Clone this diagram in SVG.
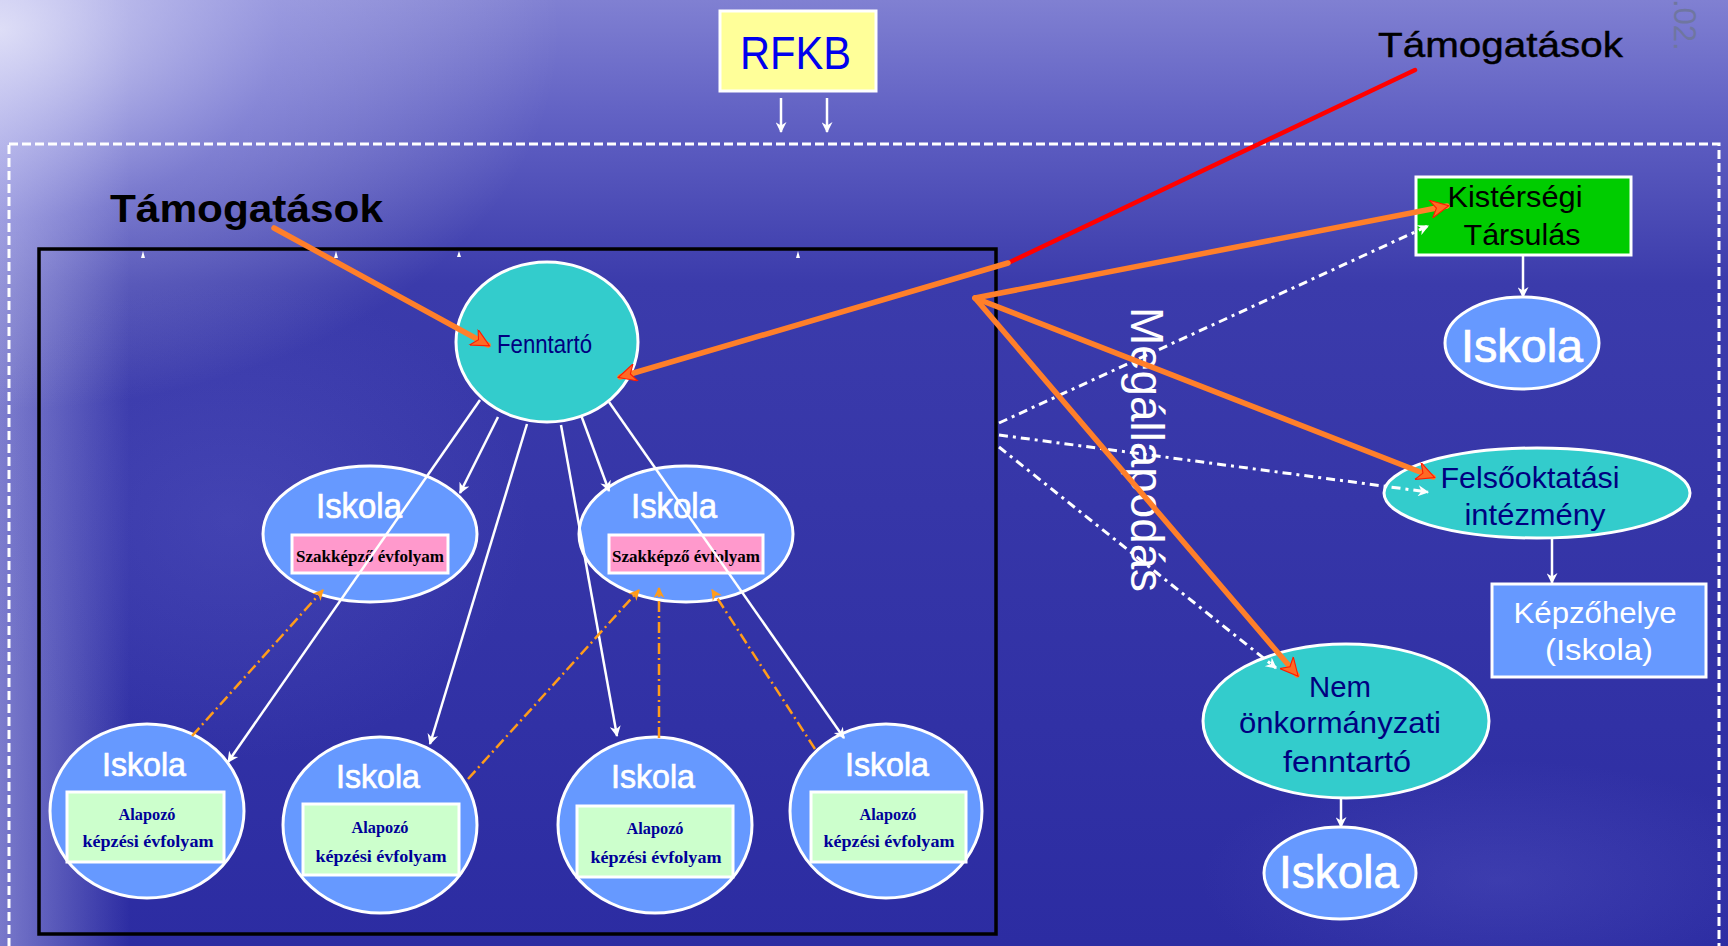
<svg xmlns="http://www.w3.org/2000/svg" width="1728" height="946" viewBox="0 0 1728 946">
<defs>
  <linearGradient id="bgV" x1="0" y1="0" x2="0" y2="1">
    <stop offset="0" stop-color="#8080d2"/>
    <stop offset="0.12" stop-color="#6262c4"/>
    <stop offset="0.3" stop-color="#3b3bab"/>
    <stop offset="1" stop-color="#2c2ca2"/>
  </linearGradient>
  <radialGradient id="bgTL" cx="0" cy="0" r="1" gradientUnits="userSpaceOnUse" gradientTransform="translate(0,30) scale(560,380)">
    <stop offset="0" stop-color="#f4f4ff" stop-opacity="0.75"/>
    <stop offset="0.5" stop-color="#d8d8ff" stop-opacity="0.3"/>
    <stop offset="1" stop-color="#ffffff" stop-opacity="0"/>
  </radialGradient>
  <linearGradient id="bgL" x1="0" y1="0" x2="1" y2="0">
    <stop offset="0" stop-color="#b8b8ec" stop-opacity="0.55"/>
    <stop offset="1" stop-color="#b8b8ec" stop-opacity="0"/>
  </linearGradient>
  <radialGradient id="bgW" cx="0.5" cy="0.5" r="0.5">
    <stop offset="0" stop-color="#6a6ad0" stop-opacity="0.25"/>
    <stop offset="1" stop-color="#6a6ad0" stop-opacity="0"/>
  </radialGradient>
  <marker id="mWhite" viewBox="0 0 10 10" refX="9" refY="5" markerWidth="14" markerHeight="11" markerUnits="userSpaceOnUse" orient="auto">
    <path d="M0,0 L10,5 L0,10 L3,5 Z" fill="#ffffff"/>
  </marker>
  <marker id="mOrangeDot" viewBox="0 0 10 10" refX="9" refY="5" markerWidth="13" markerHeight="11" markerUnits="userSpaceOnUse" orient="auto">
    <path d="M0,0 L10,5 L0,10 L3,5 Z" fill="#ff9c1a"/>
  </marker>
  <marker id="mThick" viewBox="0 0 10 10" refX="9" refY="5" markerWidth="24" markerHeight="18" markerUnits="userSpaceOnUse" orient="auto">
    <path d="M0,0 L10,5 L0,10 L3,5 Z" fill="#ff6a24" stroke="#ff1a00" stroke-width="0.6"/>
  </marker>
  <style>
    .sans { font-family: "Liberation Sans", Arial, sans-serif; }
    .serif { font-family: "Liberation Serif", "Times New Roman", serif; font-weight: bold; }
    .teal { fill: #33cccc; stroke: #ffffff; stroke-width: 3; }
    .lblue { fill: #6699ff; stroke: #ffffff; stroke-width: 3; }
    .pink { fill: #ff99cc; stroke: #ffffff; stroke-width: 3; }
    .mint { fill: #ccffcc; stroke: #ffffff; stroke-width: 3; }
    .wtxt { fill: #ffffff; }
    .isk { fill: #ffffff; stroke: #ffffff; stroke-width: 0.7; }
    .navy { fill: #000080; }
    .w { stroke: #ffffff; stroke-width: 2.5; fill: none; }
    .od { stroke: #ff9c1a; stroke-width: 2.5; fill: none; stroke-dasharray: 11 4 2 4; }
    .wd { stroke: #ffffff; stroke-width: 3; fill: none; stroke-dasharray: 9 5 3 5; }
    .th { stroke: #ff7f2a; stroke-width: 5.5; fill: none; stroke-linecap: round; }
  </style>
</defs>

<g id="background">
  <rect x="0" y="0" width="1728" height="946" fill="url(#bgV)"/>
  <rect x="0" y="0" width="130" height="946" fill="url(#bgL)"/>
  <ellipse cx="230" cy="520" rx="300" ry="240" fill="url(#bgW)"/>
  <ellipse cx="1500" cy="880" rx="300" ry="120" fill="url(#bgW)"/>
  <rect x="0" y="0" width="1728" height="946" fill="url(#bgTL)"/>
</g>

<g id="frames">
  <rect x="9" y="144" width="1710" height="830" fill="none" stroke="#ffffff" stroke-width="3" stroke-dasharray="9 4"/>
  <rect x="39" y="249" width="957" height="685" fill="none" stroke="#000000" stroke-width="3.5"/>
  <g fill="#ffffff">
    <path d="M141,258 L143,251 L145,258 Z"/>
    <path d="M334,258 L336,251 L338,258 Z"/>
    <path d="M457,257 L459,251 L461,257 Z"/>
    <path d="M796,258 L798,251 L800,258 Z"/>
  </g>
</g>

<g id="date-mark">
  <text class="sans" x="0" y="0" transform="translate(1674,-1) rotate(90)" font-size="31" fill="#6f76a0">.02.</text>
</g>

<g id="rfkb">
  <rect x="720" y="11" width="156" height="80" fill="#ffff99" stroke="#ffffff" stroke-width="3"/>
  <text class="sans" x="740" y="69" font-size="47" fill="#0000ee" textLength="111" lengthAdjust="spacingAndGlyphs">RFKB</text>
</g>

<g id="tamogatasok-top">
  <text class="sans" x="1378" y="57" font-size="35" fill="#000000" stroke="#000000" stroke-width="0.4" textLength="245" lengthAdjust="spacingAndGlyphs">Támogatások</text>
</g>

<g id="tamogatasok-left">
  <text class="sans" x="110" y="222" font-size="39" font-weight="bold" fill="#000000" textLength="273" lengthAdjust="spacingAndGlyphs">Támogatások</text>
</g>

<g id="fenntarto">
  <ellipse class="teal" cx="547" cy="342" rx="91" ry="80"/>
  <text class="sans navy" x="497" y="353" font-size="25" textLength="95" lengthAdjust="spacingAndGlyphs">Fenntartó</text>
</g>

<g id="iskola-mid-left">
  <ellipse class="lblue" cx="370" cy="534" rx="107" ry="68"/>
  <text class="sans isk" x="316" y="518" font-size="35" textLength="86" lengthAdjust="spacingAndGlyphs">Iskola</text>
  <rect class="pink" x="292" y="535" width="156" height="38"/>
  <text class="serif" x="296" y="562" font-size="17" fill="#000000" textLength="148" lengthAdjust="spacingAndGlyphs">Szakképző évfolyam</text>
</g>

<g id="iskola-mid-right">
  <ellipse class="lblue" cx="686" cy="534" rx="107" ry="68"/>
  <text class="sans isk" x="631" y="518" font-size="35" textLength="86" lengthAdjust="spacingAndGlyphs">Iskola</text>
  <rect class="pink" x="609" y="535" width="154" height="38"/>
  <text class="serif" x="612" y="562" font-size="17" fill="#000000" textLength="148" lengthAdjust="spacingAndGlyphs">Szakképző évfolyam</text>
</g>

<g id="iskola-bottom-1">
  <ellipse class="lblue" cx="147" cy="811" rx="97" ry="87"/>
  <text class="sans isk" x="144" y="776" font-size="34" text-anchor="middle" textLength="84" lengthAdjust="spacingAndGlyphs">Iskola</text>
  <rect class="mint" x="67" y="792" width="157" height="70"/>
  <text class="serif" x="147" y="820" font-size="16" fill="#000099" text-anchor="middle" textLength="57" lengthAdjust="spacingAndGlyphs">Alapozó</text>
  <text class="serif" x="148" y="847" font-size="16" fill="#000099" text-anchor="middle" textLength="131" lengthAdjust="spacingAndGlyphs">képzési évfolyam</text>
</g>

<g id="iskola-bottom-2">
  <ellipse class="lblue" cx="380" cy="825" rx="97" ry="88"/>
  <text class="sans isk" x="378" y="788" font-size="34" text-anchor="middle" textLength="84" lengthAdjust="spacingAndGlyphs">Iskola</text>
  <rect class="mint" x="303" y="804" width="156" height="71"/>
  <text class="serif" x="380" y="833" font-size="16" fill="#000099" text-anchor="middle" textLength="57" lengthAdjust="spacingAndGlyphs">Alapozó</text>
  <text class="serif" x="381" y="862" font-size="16" fill="#000099" text-anchor="middle" textLength="131" lengthAdjust="spacingAndGlyphs">képzési évfolyam</text>
</g>

<g id="iskola-bottom-3">
  <ellipse class="lblue" cx="655" cy="825" rx="97" ry="88"/>
  <text class="sans isk" x="653" y="788" font-size="34" text-anchor="middle" textLength="84" lengthAdjust="spacingAndGlyphs">Iskola</text>
  <rect class="mint" x="577" y="806" width="156" height="71"/>
  <text class="serif" x="655" y="834" font-size="16" fill="#000099" text-anchor="middle" textLength="57" lengthAdjust="spacingAndGlyphs">Alapozó</text>
  <text class="serif" x="656" y="863" font-size="16" fill="#000099" text-anchor="middle" textLength="131" lengthAdjust="spacingAndGlyphs">képzési évfolyam</text>
</g>

<g id="iskola-bottom-4">
  <ellipse class="lblue" cx="886" cy="811" rx="96" ry="87"/>
  <text class="sans isk" x="887" y="776" font-size="34" text-anchor="middle" textLength="84" lengthAdjust="spacingAndGlyphs">Iskola</text>
  <rect class="mint" x="811" y="792" width="155" height="70"/>
  <text class="serif" x="888" y="820" font-size="16" fill="#000099" text-anchor="middle" textLength="57" lengthAdjust="spacingAndGlyphs">Alapozó</text>
  <text class="serif" x="889" y="847" font-size="16" fill="#000099" text-anchor="middle" textLength="131" lengthAdjust="spacingAndGlyphs">képzési évfolyam</text>
</g>

<g id="megallapodas">
  <text class="sans wtxt" x="0" y="0" transform="translate(1131,307) rotate(90)" font-size="46" textLength="285" lengthAdjust="spacingAndGlyphs">Megállapodás</text>
</g>

<g id="kistersegi">
  <rect x="1416" y="177" width="215" height="78" fill="#00cc00" stroke="#ffffff" stroke-width="3"/>
  <text class="sans" x="1515" y="207" font-size="30" fill="#000000" text-anchor="middle" textLength="135" lengthAdjust="spacingAndGlyphs">Kistérségi</text>
  <text class="sans" x="1522" y="245" font-size="30" fill="#000000" text-anchor="middle" textLength="117" lengthAdjust="spacingAndGlyphs">Társulás</text>
</g>

<g id="iskola-tr">
  <ellipse class="lblue" cx="1522" cy="343" rx="77" ry="46"/>
  <text class="sans isk" x="1522" y="362" font-size="46" text-anchor="middle" textLength="122" lengthAdjust="spacingAndGlyphs">Iskola</text>
</g>

<g id="felsooktatasi">
  <ellipse class="teal" cx="1537" cy="493" rx="153" ry="45"/>
  <text class="sans navy" x="1530" y="488" font-size="30" text-anchor="middle" textLength="179" lengthAdjust="spacingAndGlyphs">Felsőoktatási</text>
  <text class="sans navy" x="1535" y="525" font-size="30" text-anchor="middle" textLength="141" lengthAdjust="spacingAndGlyphs">intézmény</text>
</g>

<g id="kepzohelye">
  <rect x="1492" y="584" width="214" height="93" fill="#6699ff" stroke="#ffffff" stroke-width="3"/>
  <text class="sans wtxt" x="1595" y="623" font-size="30" text-anchor="middle" textLength="163" lengthAdjust="spacingAndGlyphs">Képzőhelye</text>
  <text class="sans wtxt" x="1599" y="660" font-size="30" text-anchor="middle" textLength="108" lengthAdjust="spacingAndGlyphs">(Iskola)</text>
</g>

<g id="nem-onkormanyzati">
  <ellipse class="teal" cx="1346" cy="721" rx="143" ry="77"/>
  <text class="sans navy" x="1340" y="697" font-size="30" text-anchor="middle" textLength="62" lengthAdjust="spacingAndGlyphs">Nem</text>
  <text class="sans navy" x="1340" y="733" font-size="30" text-anchor="middle" textLength="202" lengthAdjust="spacingAndGlyphs">önkormányzati</text>
  <text class="sans navy" x="1347" y="772" font-size="30" text-anchor="middle" textLength="128" lengthAdjust="spacingAndGlyphs">fenntartó</text>
</g>

<g id="iskola-br">
  <ellipse class="lblue" cx="1340" cy="873" rx="76" ry="46"/>
  <text class="sans isk" x="1339" y="888" font-size="46" text-anchor="middle" textLength="120" lengthAdjust="spacingAndGlyphs">Iskola</text>
</g>

<g id="connectors">
  <line class="w" x1="781" y1="98" x2="781" y2="132" marker-end="url(#mWhite)"/>
  <line class="w" x1="827" y1="98" x2="827" y2="132" marker-end="url(#mWhite)"/>
  <line class="w" x1="480" y1="400" x2="228" y2="762" marker-end="url(#mWhite)"/>
  <line class="w" x1="498" y1="417" x2="460" y2="493" marker-end="url(#mWhite)"/>
  <line class="w" x1="527" y1="424" x2="430" y2="744" marker-end="url(#mWhite)"/>
  <line class="w" x1="561" y1="425" x2="617" y2="736" marker-end="url(#mWhite)"/>
  <line class="w" x1="581" y1="415" x2="609" y2="491" marker-end="url(#mWhite)"/>
  <line class="w" x1="609" y1="402" x2="844" y2="738" marker-end="url(#mWhite)"/>
  <line class="od" x1="192" y1="736" x2="323" y2="590" marker-end="url(#mOrangeDot)"/>
  <line class="od" x1="468" y1="779" x2="639" y2="590" marker-end="url(#mOrangeDot)"/>
  <line class="od" x1="659" y1="738" x2="659" y2="588" marker-end="url(#mOrangeDot)"/>
  <line class="od" x1="815" y1="749" x2="712" y2="590" marker-end="url(#mOrangeDot)"/>
  <line class="wd" x1="999" y1="423" x2="1428" y2="226" marker-end="url(#mWhite)"/>
  <line class="wd" x1="999" y1="435" x2="1428" y2="492" marker-end="url(#mWhite)"/>
  <line class="wd" x1="999" y1="447" x2="1276" y2="668" marker-end="url(#mWhite)"/>
  <line class="w" x1="1523" y1="255" x2="1523" y2="297" marker-end="url(#mWhite)"/>
  <line class="w" x1="1552" y1="538" x2="1552" y2="583" marker-end="url(#mWhite)"/>
  <line class="w" x1="1341" y1="798" x2="1341" y2="827" marker-end="url(#mWhite)"/>
  <line class="th" x1="274" y1="228" x2="488" y2="345" marker-end="url(#mThick)"/>
  <line x1="1415" y1="70" x2="1008" y2="263" stroke="#ff0000" stroke-width="4.5" stroke-linecap="round"/>
  <line class="th" x1="1008" y1="263" x2="620" y2="377" marker-end="url(#mThick)"/>
  <line class="th" x1="975" y1="298" x2="1447" y2="206" marker-end="url(#mThick)"/>
  <line class="th" x1="975" y1="298" x2="1433" y2="477" marker-end="url(#mThick)"/>
  <line class="th" x1="975" y1="298" x2="1297" y2="675" marker-end="url(#mThick)"/>
</g>
</svg>
